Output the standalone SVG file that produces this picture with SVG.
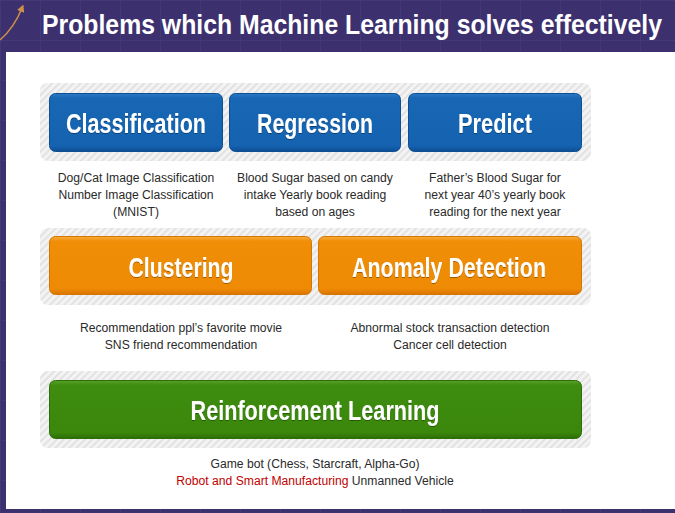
<svg xmlns="http://www.w3.org/2000/svg" width="675" height="513" viewBox="0 0 675 513">
  <defs>
    <pattern id="grid" width="40" height="40" patternUnits="userSpaceOnUse">
      <path d="M0 0.5H40M0.5 0V40" stroke="#4a3e80" stroke-width="1" fill="none"/>
    </pattern>
    <pattern id="stripes" width="5" height="5" patternUnits="userSpaceOnUse" patternTransform="rotate(45)">
      <rect width="5" height="5" fill="#f3f3f3"/>
      <rect width="1.6" height="5" fill="#dedede"/>
    </pattern>
    <linearGradient id="gBlue" x1="0" y1="0" x2="0" y2="1">
      <stop offset="0" stop-color="#2a78c4"/>
      <stop offset="0.08" stop-color="#1867b5"/>
      <stop offset="0.9" stop-color="#1462b0"/>
      <stop offset="1" stop-color="#0d4e93"/>
    </linearGradient>
    <linearGradient id="gOrange" x1="0" y1="0" x2="0" y2="1">
      <stop offset="0" stop-color="#f7ad3c"/>
      <stop offset="0.08" stop-color="#f08e08"/>
      <stop offset="0.9" stop-color="#ee8a04"/>
      <stop offset="1" stop-color="#d87400"/>
    </linearGradient>
    <linearGradient id="gGreen" x1="0" y1="0" x2="0" y2="1">
      <stop offset="0" stop-color="#5aa22a"/>
      <stop offset="0.08" stop-color="#3e8c10"/>
      <stop offset="0.9" stop-color="#3a870c"/>
      <stop offset="1" stop-color="#2c6d06"/>
    </linearGradient>
    <filter id="ts" x="-5%" y="-20%" width="110%" height="140%">
      <feDropShadow dx="0" dy="1" stdDeviation="0.6" flood-color="#000" flood-opacity="0.35"/>
    </filter>
    <marker id="ah" viewBox="0 0 10 10" refX="5" refY="5" markerWidth="5" markerHeight="5" orient="auto">
      <path d="M0 0L10 5L0 10Z" fill="#d0904a"/>
    </marker>
  </defs>
  <style>
    .back { fill: url(#stripes); }
    .blue { fill: url(#gBlue); stroke: #0e4f92; stroke-width: 1; }
    .orange { fill: url(#gOrange); stroke: #d67500; stroke-width: 1; }
    .green { fill: url(#gGreen); stroke: #2d6e08; stroke-width: 1; }
    .lbl { font-family: "Liberation Sans", Arial, sans-serif; font-weight: bold; font-size: 28px; fill: #ffffff; text-anchor: middle; filter: url(#ts); }
    .desc { font-family: "Liberation Sans", Arial, sans-serif; font-size: 13.5px; fill: #2a2a2a; text-anchor: middle; }
    .red { fill: #c00000; }
    .title { font-family: "Liberation Sans", Arial, sans-serif; font-weight: bold; font-size: 28px; fill: #ffffff; }
  </style>

  <!-- background -->
  <rect width="675" height="513" fill="#3d306f"/>
  <rect width="675" height="513" fill="url(#grid)" opacity="0.6"/>
  <rect x="6" y="52" width="669" height="457" fill="#ffffff"/>

  <!-- header -->
  <g id="header">
    <path d="M0 40 Q14 28 22 8" fill="none" stroke="#d0904a" stroke-width="1.5" marker-end="url(#ah)"/>
    <g transform="translate(42 34) scale(0.8 1)">
      <text class="title" x="0" y="0" textLength="775" lengthAdjust="spacingAndGlyphs">Problems which Machine Learning solves effectively</text>
    </g>
  </g>

  <!-- backings -->
  <g id="backings">
    <rect class="back" x="40" y="83" width="551" height="78" rx="8"/>
    <rect class="back" x="40" y="228" width="551" height="77" rx="8"/>
    <rect class="back" x="40" y="371" width="551" height="77" rx="8"/>
  </g>

  <g id="classification">
    <rect class="blue" x="49.5" y="93.5" width="173" height="58" rx="6"/>
    <text class="lbl" x="136" y="133" textLength="140" lengthAdjust="spacingAndGlyphs">Classification</text>
    <g transform="translate(136 0) scale(0.9 1)">
      <text class="desc" x="0" y="182">Dog/Cat Image Classification</text>
      <text class="desc" x="0" y="199">Number Image Classification</text>
      <text class="desc" x="0" y="216">(MNIST)</text>
    </g>
  </g>

  <g id="regression">
    <rect class="blue" x="229.5" y="93.5" width="171" height="58" rx="6"/>
    <text class="lbl" x="315" y="133" textLength="116" lengthAdjust="spacingAndGlyphs">Regression</text>
    <g transform="translate(315 0) scale(0.9 1)">
      <text class="desc" x="0" y="182">Blood Sugar based on candy</text>
      <text class="desc" x="0" y="199">intake Yearly book reading</text>
      <text class="desc" x="0" y="216">based on ages</text>
    </g>
  </g>

  <g id="predict">
    <rect class="blue" x="408.5" y="93.5" width="173" height="58" rx="6"/>
    <text class="lbl" x="495" y="133" textLength="74" lengthAdjust="spacingAndGlyphs">Predict</text>
    <g transform="translate(495 0) scale(0.9 1)">
      <text class="desc" x="0" y="182">Father’s Blood Sugar for</text>
      <text class="desc" x="0" y="199">next year 40’s yearly book</text>
      <text class="desc" x="0" y="216">reading for the next year</text>
    </g>
  </g>

  <g id="clustering">
    <rect class="orange" x="49.5" y="236.5" width="262" height="58" rx="6"/>
    <text class="lbl" x="181" y="277" textLength="105" lengthAdjust="spacingAndGlyphs">Clustering</text>
    <g transform="translate(181 0) scale(0.9 1)">
      <text class="desc" x="0" y="332">Recommendation ppl’s favorite movie</text>
      <text class="desc" x="0" y="349">SNS friend recommendation</text>
    </g>
  </g>

  <g id="anomaly">
    <rect class="orange" x="318.5" y="236.5" width="263" height="58" rx="6"/>
    <text class="lbl" x="449" y="277" textLength="194" lengthAdjust="spacingAndGlyphs">Anomaly Detection</text>
    <g transform="translate(450 0) scale(0.9 1)">
      <text class="desc" x="0" y="332">Abnormal stock transaction detection</text>
      <text class="desc" x="0" y="349">Cancer cell detection</text>
    </g>
  </g>

  <g id="reinforcement">
    <rect class="green" x="49.5" y="380.5" width="532" height="58" rx="6"/>
    <text class="lbl" x="315" y="420" textLength="249" lengthAdjust="spacingAndGlyphs">Reinforcement Learning</text>
    <g transform="translate(315 0) scale(0.9 1)">
      <text class="desc" x="0" y="468">Game bot (Chess, Starcraft, Alpha-Go)</text>
      <text class="desc" x="0" y="485"><tspan class="red">Robot and Smart Manufacturing</tspan> Unmanned Vehicle</text>
    </g>
  </g>

  <g id="connectors"></g>
</svg>
